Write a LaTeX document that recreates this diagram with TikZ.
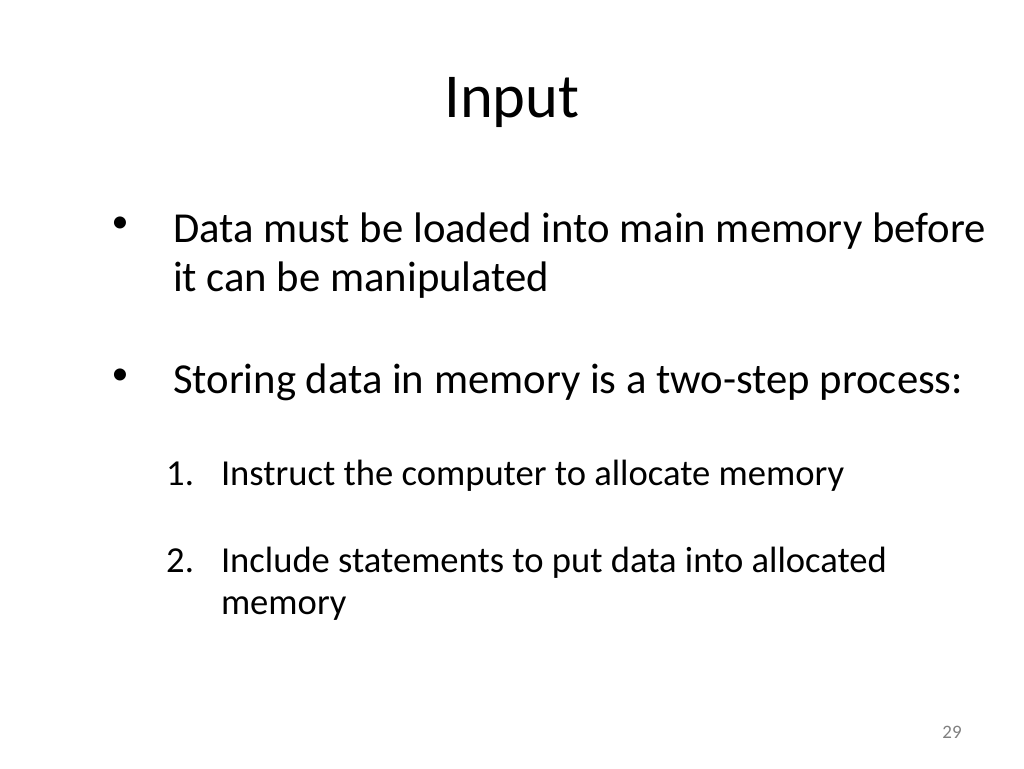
\documentclass[tikz,border=0pt]{standalone}
\usepackage{fontspec}
\setmainfont{Carlito}
\usepackage{tikz}
\usetikzlibrary{positioning}

\begin{document}
\begin{tikzpicture}[x=1pt,y=-1pt,inner sep=0pt,outer sep=0pt,
    title node/.style={anchor=base,font=\fontsize{62.5}{75}\selectfont},
    body node/.style={anchor=base west,align=left,font=\fontsize{42.7}{49}\selectfont},
    bullet node/.style={anchor=center,font=\fontsize{34}{40}\selectfont},
    item node/.style={anchor=base west,align=left,font=\fontsize{36.6}{42}\selectfont},
    page node/.style={anchor=base,font=\fontsize{19}{22}\selectfont,text=black!50}]

    \useasboundingbox[fill=white] (0,0) rectangle (1024,768);

    \node[title node] (title) at (512,117) {Input};

    % two-line nodes sit on the baseline of their last line
    \node[body node] (load) at (173,291) {Data must be loaded into main memory before\\it can be manipulated};
    \node[body node] (store) at (173,393) {Storing data in memory is a two-step process:};
    \node[bullet node] (b1) at (120,225) {•};
    \node[bullet node] (b2) at (120,377) {•};

    \node[item node] (alloc) at (221,485) {Instruct the computer to allocate memory};
    \node[item node] (put) at (221,614) {Include statements to put data into allocated\\memory};
    \node[item node,anchor=base east] (n1) at (194,485) {1.};
    \node[item node,anchor=base east] (n2) at (194,572) {2.};

    \node[page node] (page) at (952,738) {29};

\end{tikzpicture}
\end{document}
